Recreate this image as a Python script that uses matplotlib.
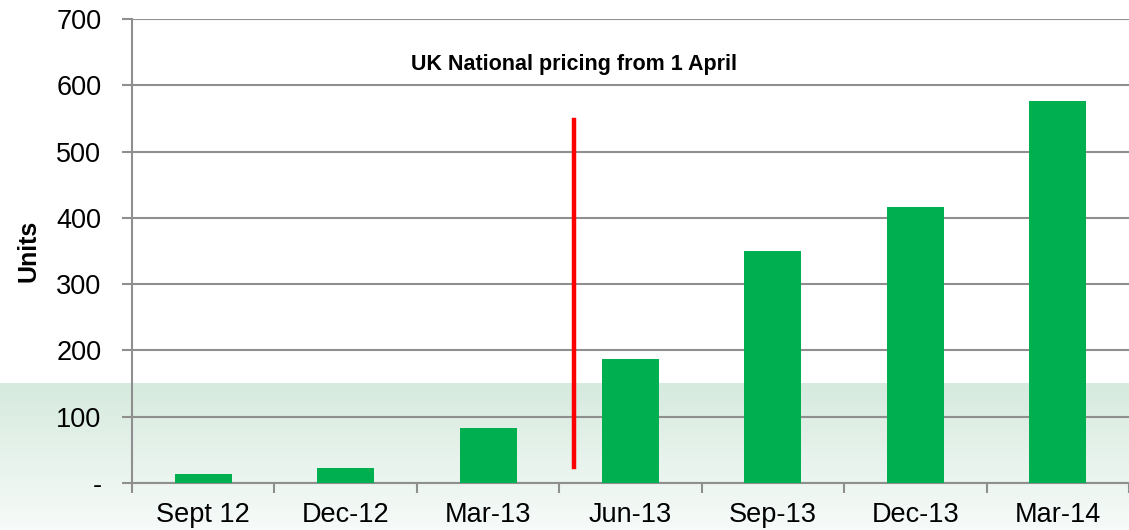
import numpy as np
import matplotlib
matplotlib.use("Agg")
from matplotlib import pyplot as plt

plt.rcParams["font.family"] = ["Liberation Sans", "DejaVu Sans"]

categories = ["Sept 12", "Dec-12", "Mar-13", "Jun-13", "Sep-13", "Dec-13", "Mar-14"]
units = [13, 22, 83, 187, 350, 416, 576]
ytick_values = [0, 100, 200, 300, 400, 500, 600, 700]
ytick_labels = ["-", "100", "200", "300", "400", "500", "600", "700"]
marker_x = 2.6
marker_range = [24, 548]
note = "UK National pricing from 1 April"

fig = plt.figure(figsize=(11.29, 5.30), dpi=100)

# soft green band behind the lower part of the chart
bg = fig.add_axes([0, 0, 1, 1], zorder=-10)
bg.set_axis_off()
grad = np.ones((530, 1, 3))
top_col = np.array([214, 234, 222]) / 255
bot_col = np.array([247, 251, 249]) / 255
band_top = 383
for r in range(band_top, 530):
    f = (r - band_top) / (530 - band_top)
    grad[r, 0] = top_col * (1 - f) + bot_col * f
bg.imshow(grad, aspect="auto", extent=[0, 1, 0, 1], transform=bg.transAxes)

ax = fig.add_axes([132 / 1129, 1 - 483 / 530, 1 - 132 / 1129, (483 - 19) / 530])
ax.patch.set_alpha(0)

x = np.arange(len(categories))
ax.bar(x, units, width=0.4, color="#00B050", zorder=3)
ax.plot([marker_x, marker_x], marker_range, color="#FF0000", lw=3.2, zorder=4)
ax.text(2.6, 632, note, ha="center", va="center", fontsize=15.5,
        fontweight="bold", color="black")

ax.set_xlim(-0.5, len(categories) - 0.5)
ax.set_ylim(0, 700)
ax.set_yticks(ytick_values)
ax.set_yticklabels(ytick_labels, fontsize=19.5)
ax.yaxis.grid(True, color="#8f8f8f", lw=1.5, zorder=0)
ax.tick_params(axis="y", length=7, width=1.5, color="#8f8f8f", pad=15)

ax.set_xticks(x)
ax.set_xticklabels(categories, fontsize=19.5)
ax.set_xticks(np.arange(-0.5, len(categories)), minor=True)
ax.tick_params(axis="x", which="major", length=0, pad=14)
ax.tick_params(axis="x", which="minor", length=7, width=1.5, color="#8f8f8f")

for s in ["top", "right"]:
    ax.spines[s].set_visible(False)
for s in ["left", "bottom"]:
    ax.spines[s].set_color("#8f8f8f")
    ax.spines[s].set_linewidth(1.5)

ax.set_ylabel("Units", fontsize=18, fontweight="bold", labelpad=11)

fig.savefig("out.png", dpi=100)
